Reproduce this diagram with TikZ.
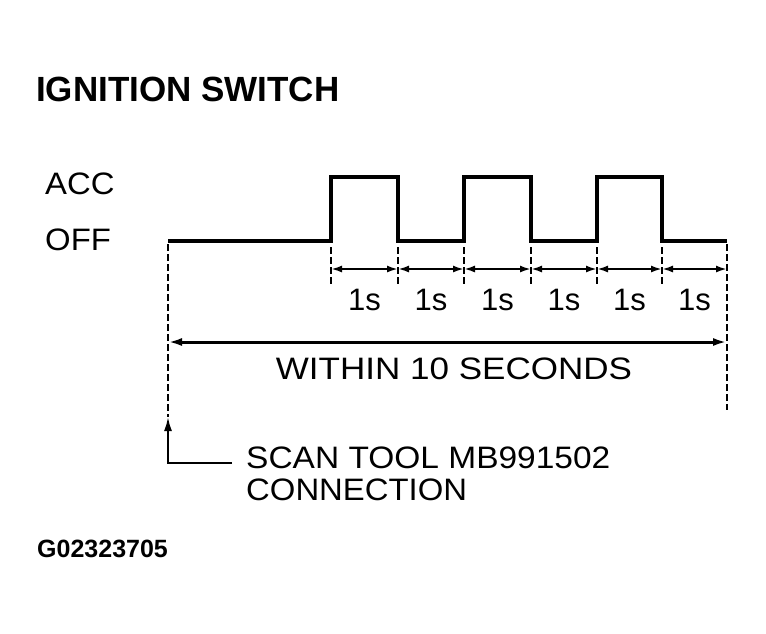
\documentclass[tikz,border=0pt]{standalone}
\usepackage{fontspec}
\setmainfont{Liberation Sans}
\usetikzlibrary{arrows.meta}
\begin{document}
\begin{tikzpicture}[x=1pt,y=-1pt,
  lbl/.style={inner sep=0pt, anchor=base west, font=\fontsize{31}{31}\selectfont, xscale=1.06},
  seclbl/.style={inner sep=0pt, anchor=base, font=\fontsize{31}{31}\selectfont},
  wave/.style={line width=3.5pt, line join=miter},
  guide/.style={line width=1.4pt, dash pattern=on 7pt off 3pt},
  dimline/.style={line width=2pt, {Latex[length=11pt,width=7pt]}-{Latex[length=11pt,width=7pt]}},
  bigdim/.style={line width=3pt, {Latex[length=14pt,width=8pt]}-{Latex[length=14pt,width=8pt]}},
  leader/.style={line width=2pt},
]
\useasboundingbox (0,0) rectangle (766,633);
\fill[white] (0,0) rectangle (766,633);

% title and level labels
\node[inner sep=0pt, anchor=base west, font=\bfseries\fontsize{35}{35}\selectfont] (title) at (36,101) {IGNITION SWITCH};
\node[lbl] (acc) at (45,194) {ACC};
\node[lbl] (off) at (45,250) {OFF};

% waveform
\coordinate (w0) at (168,241);
\coordinate (w7) at (727,241);
\draw[wave] (w0) -- (331,241) -- (331,177) -- (398,177) -- (398,241) -- (464,241) -- (464,177)
  -- (531,177) -- (531,241) -- (597,241) -- (597,177) -- (662,177) -- (662,241) -- (w7);

% boundary guides
\foreach \i/\x in {1/331,2/398,3/464,4/531,5/597,6/662}{
  \coordinate (gt\i) at (\x,247);
  \coordinate (gb\i) at (\x,287);
  \coordinate (d\i) at (\x,269);
  \draw[guide] (gt\i) -- (gb\i);
}
\coordinate (d7) at (727,269);
\coordinate (lt) at (168,244);
\coordinate (tip) at (168,417);
\coordinate (rt) at (727,244);
\coordinate (rb) at (727,410);
\draw[guide] (lt) -- (tip);
\draw[guide] (rt) -- (rb);

% one-second dimensions
\foreach \a/\b in {1/2,2/3,3/4,4/5,5/6,6/7}{
  \draw[dimline] (d\a) -- (d\b);
  \path (d\a) -- (d\b) node[midway, seclbl, yshift=-41pt] (s\a) {1s};
}

% ten-second dimension
\coordinate (L0) at (168,342);
\coordinate (L1) at (727,342);
\draw[bigdim] (L0) -- (L1);
\node[lbl, anchor=base, xscale=1.13/1.06] (within) at (454,379) {WITHIN 10 SECONDS};

% scan tool connection leader
\coordinate (corner) at (168,463);
\coordinate (lend) at (232,463);
\draw[leader, -{Latex[length=14pt,width=8pt]}] (lend) -- (corner) -- (tip);
\node[lbl, xscale=1.08/1.06] (scan) at (246,468) {SCAN TOOL MB991502};
\node[lbl] (conn) at (246,500) {CONNECTION};

% figure code
\node[inner sep=0pt, anchor=base west, font=\bfseries\fontsize{25}{25}\selectfont] (code) at (37,557) {G02323705};
\end{tikzpicture}
\end{document}
